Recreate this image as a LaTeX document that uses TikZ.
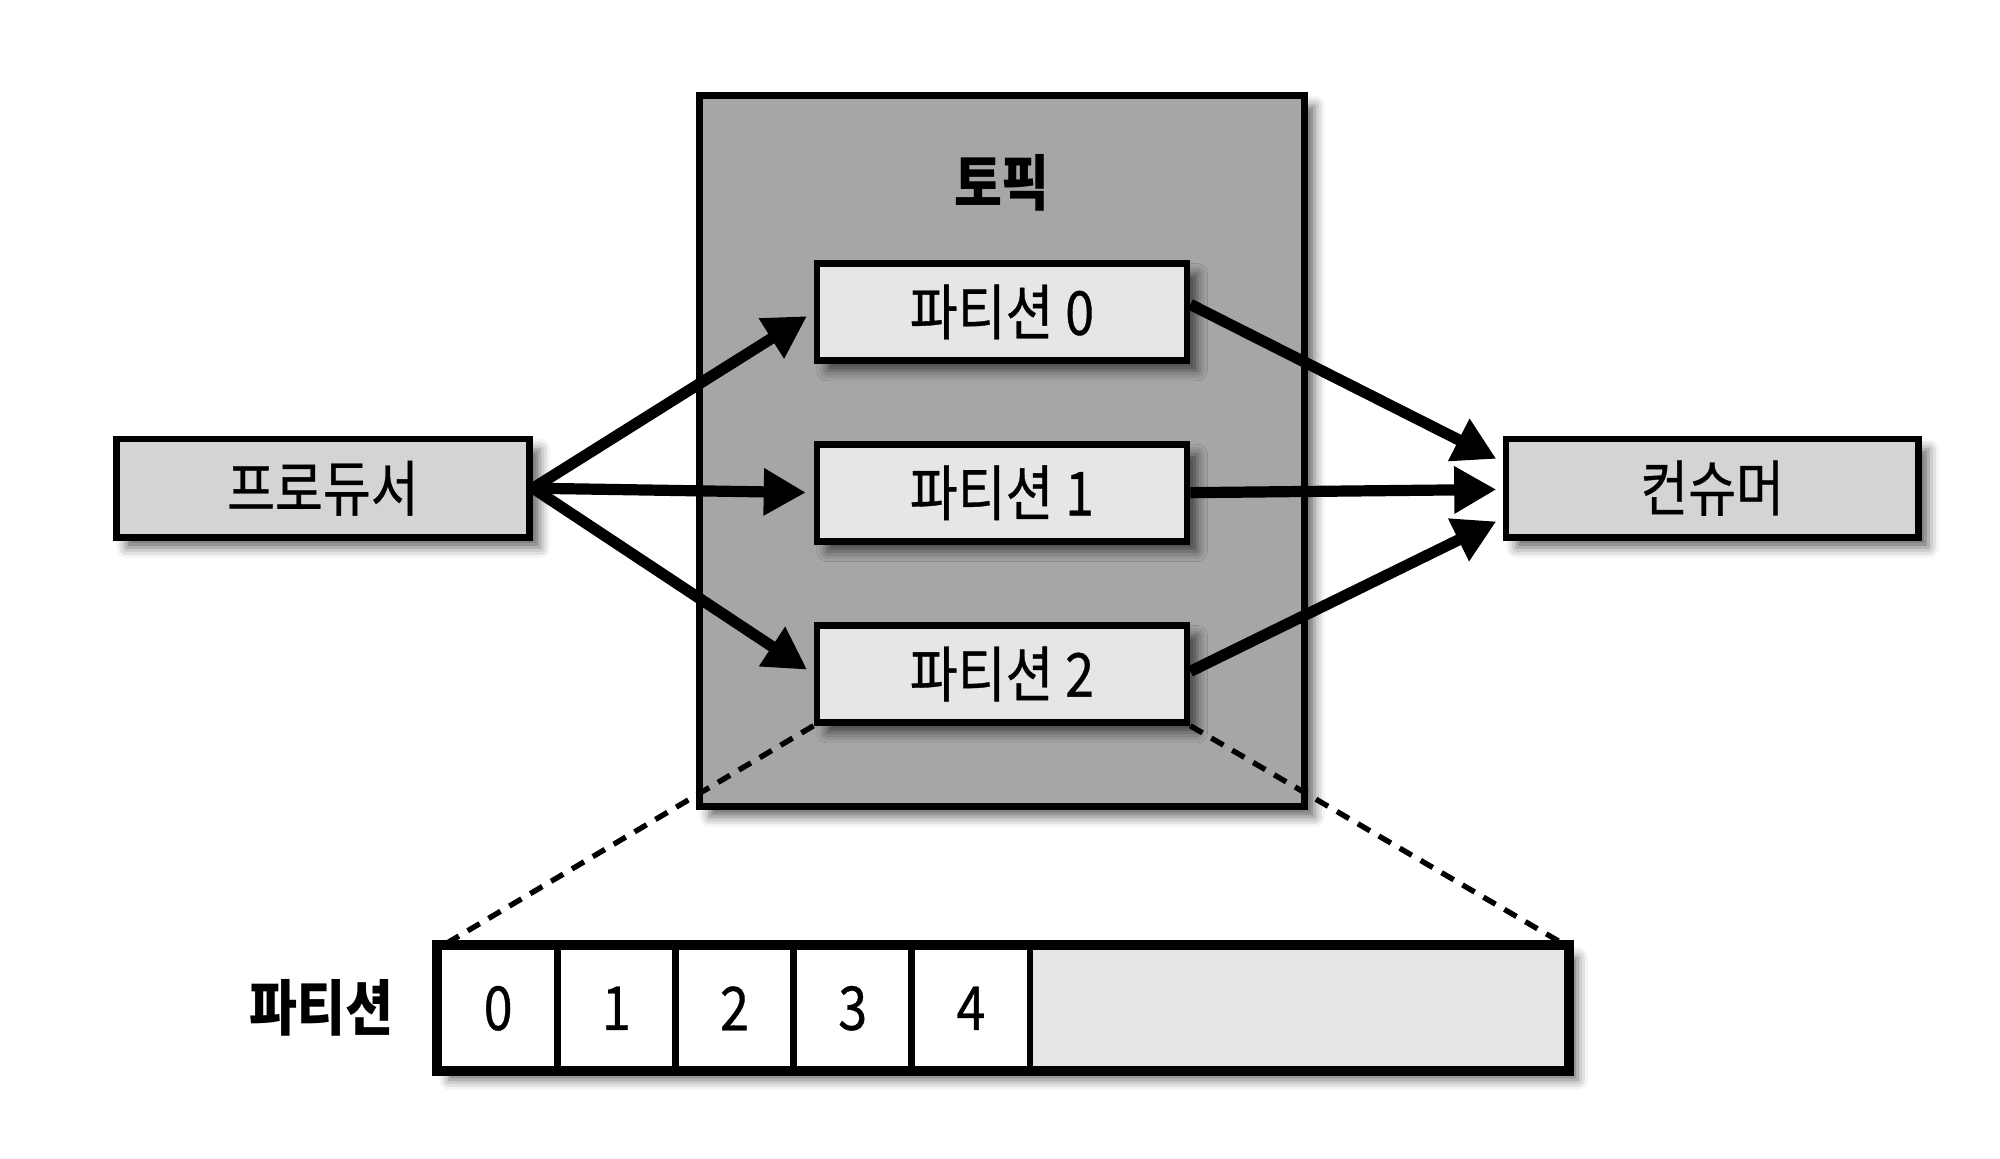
\documentclass[tikz,border=0pt]{standalone}
\usepackage{fontspec}
\newfontfamily\kr[FakeStretch=0.86, UprightFeatures={FakeBold=0.6}]{Noto Sans CJK KR}
\usetikzlibrary{arrows.meta,shadows.blur,calc}
\definecolor{topicgray}{HTML}{A6A6A6}
\definecolor{endgray}{HTML}{D4D4D4}
\definecolor{partgray}{HTML}{E6E6E6}
\begin{document}
\begin{tikzpicture}[x=0.1mm,y=-0.1mm,
  font=\kr\fontsize{13.5}{16}\selectfont,
  shadowed/.style={blur shadow={shadow xshift=0.8mm, shadow yshift=-0.8mm, shadow blur radius=0.8mm, shadow opacity=60}},
  box/.style={draw=black, line width=1.5pt, inner sep=0pt, shadowed},
  cell/.style={draw=black, line width=1.5pt, inner sep=0pt, minimum width=9.26mm, minimum height=9.6mm, fill=white},
  flow/.style={line width=2.5pt, -{Triangle[length=3.3mm, width=3.5mm]}},
  dashline/.style={line width=1.2pt, dash pattern=on 1.1mm off 0.8mm},
  boldlabel/.style={font=\kr\bfseries\fontsize{13.5}{16}\selectfont}
]
\useasboundingbox (0,0) rectangle (1567,908);

% topic container
\node[box, fill=topicgray, minimum width=47.4mm, minimum height=55.7mm] (topic) at (785,353.5) {};
\node[boldlabel] (topiclabel) at (785,143) {토픽};

% partitions
\node[box, fill=partgray, minimum width=29mm, minimum height=7.6mm] (p0) at (785,244.5) {파티션 0};
\node[box, fill=partgray, minimum width=29mm, minimum height=7.6mm] (p1) at (785,386) {파티션 1};
\node[box, fill=partgray, minimum width=29mm, minimum height=7.6mm] (p2) at (785,528) {파티션 2};

% producer and consumer
\node[box, fill=endgray, minimum width=32.4mm, minimum height=7.7mm] (prod) at (253,382.5) {프로듀서};
\node[box, fill=endgray, minimum width=32.3mm, minimum height=7.7mm] (cons) at (1341.5,382.5) {컨슈머};

% partition bar
\node[box, fill=partgray, minimum width=88.4mm, minimum height=9.6mm] (bar) at (786,790) {};
\node[cell] (c0) at (390.3,790) {0};
\node[cell] (c1) at (482.9,790) {1};
\node[cell] (c2) at (575.5,790) {2};
\node[cell] (c3) at (668.1,790) {3};
\node[cell] (c4) at (760.7,790) {4};
\draw[line width=1.5pt] (bar.north west) rectangle (bar.south east);
\node[boldlabel] (barlabel) at (252,790) {파티션};

% dashed zoom lines
\coordinate (bl) at ($(bar.north west)+(8,0)$);
\coordinate (br) at ($(bar.north east)+(-6,0)$);
\draw[dashline] (p2.south west) -- (bl);
\draw[dashline] (p2.south east) -- (br);

% producer arrows
\draw[flow, shorten >=0.6mm] (prod.east) -- (p0.west);
\draw[flow, shorten >=0.6mm] (prod.east) -- (p1.west);
\draw[flow, shorten >=0.6mm] (prod.east) -- (p2.west);

% consumer arrows
\coordinate (ct) at ($(cons.west)+(-5,-23)$);
\coordinate (cm) at ($(cons.west)+(-5,1)$);
\coordinate (cb) at ($(cons.west)+(-5,26)$);
\draw[flow] ($(p0.east)+(0,-6)$) -- (ct);
\draw[flow] (p1.east) -- (cm);
\draw[flow] ($(p2.east)+(0,-2)$) -- (cb);
\end{tikzpicture}
\end{document}
